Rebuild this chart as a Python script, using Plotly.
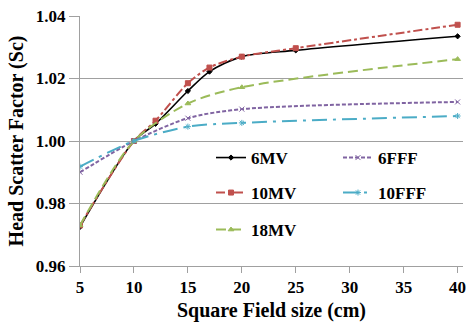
import plotly.graph_objects as go

# field sizes (cm) per series
x_mv6 = [5, 10, 12, 15, 17, 20, 25, 40]
mv6 = [0.9725, 1.000, 1.0055, 1.0160, 1.0222, 1.0270, 1.0290, 1.0335]
x_mv10 = [5, 10, 12, 15, 17, 20, 25, 40]
mv10 = [0.973, 1.000, 1.0065, 1.0185, 1.0235, 1.0270, 1.0297, 1.0372]
x_mv18 = [5, 10, 15, 20, 40]
mv18 = [0.973, 1.000, 1.0120, 1.0172, 1.0262]
x_fff6 = [5, 10, 15, 20, 40]
fff6 = [0.9900, 1.000, 1.0073, 1.0102, 1.0125]
x_fff10 = [5, 10, 15, 20, 40]
fff10 = [0.9918, 1.000, 1.0046, 1.0058, 1.0080]

x_ticks = [5, 10, 15, 20, 25, 30, 35, 40]
y_ticks = [0.96, 0.98, 1.00, 1.02, 1.04]
y_labels = ["0.96", "0.98", "1.00", "1.02", "1.04"]

FONT = "Liberation Serif"
W, H = 466, 324
ML, MR, MT, MB = 80, 3, 16, 58
PW, PH = W - ML - MR, H - MT - MB

series = [
    ("6MV", x_mv6, mv6, "#000000", "solid", "diamond", 4, 1.6, "legend", 216, 158),
    ("10MV", x_mv10, mv10, "#c0504d", "dashdot", "square", 5, 2, "legend2", 216, 193),
    ("18MV", x_mv18, mv18, "#9bbb59", "10px,5px", "triangle-up", 5, 2, "legend3", 216, 230),
    ("6FFF", x_fff6, fff6, "#8064a2", "4px,2px", "x-thin-open", 5, 2, "legend4", 343, 158),
    ("10FFF", x_fff10, fff10, "#4bacc6", "longdashdot", "asterisk-open", 5, 2, "legend5", 343, 193),
]

fig = go.Figure()
legends = {}
for name, xs, ys, col, dash, sym, ms, lw, leg, lx, ly in series:
    fig.add_trace(go.Scatter(
        x=xs, y=ys, name=name, mode="lines+markers",
        line=dict(color=col, dash=dash, width=lw, shape="spline", smoothing=0.8),
        marker=dict(symbol=sym, size=ms, color=col, line=dict(color=col, width=1)),
        legend=leg,
    ))
    legends[leg] = dict(
        x=(lx - 5 - ML) / PW, y=(H - MB - ly) / PH, xanchor="left", yanchor="middle",
        bgcolor="rgba(0,0,0,0)", borderwidth=0,
        font=dict(family=FONT, size=17, color="#000000", weight="bold"),
        itemwidth=30, tracegroupgap=0,
    )

fig.update_layout(
    width=W, height=H,
    margin=dict(l=ML, r=MR, t=MT, b=MB, autoexpand=False),
    paper_bgcolor="white", plot_bgcolor="white",
    showlegend=True,
    font=dict(family=FONT, color="#000000"),
    **legends,
)

fig.update_xaxes(
    range=[5, 40.5], tickmode="array", tickvals=x_ticks,
    ticks="outside", ticklen=6, tickcolor="#a0a0a0",
    showline=True, linecolor="#a0a0a0", linewidth=1,
    showgrid=False, zeroline=False, automargin=False,
    ticklabeloverflow="allow",
    tickfont=dict(family=FONT, size=17, color="#000000", weight="bold"),
    title=dict(text="Square Field size (cm)", standoff=6,
               font=dict(family=FONT, size=20, color="#000000", weight="bold")),
)
fig.update_yaxes(
    range=[0.96, 1.04], tickmode="array", tickvals=y_ticks, ticktext=y_labels,
    ticks="outside", ticklen=10, tickcolor="#a0a0a0",
    showline=True, linecolor="#a0a0a0", linewidth=1,
    showgrid=True, gridcolor="#a0a0a0", gridwidth=1, zeroline=False, automargin=False,
    tickfont=dict(family=FONT, size=17, color="#000000", weight="bold"),
    title=dict(text="Head Scatter Factor (Sc)", standoff=6,
               font=dict(family=FONT, size=20, color="#000000", weight="bold")),
)

fig.write_html("out.html")
